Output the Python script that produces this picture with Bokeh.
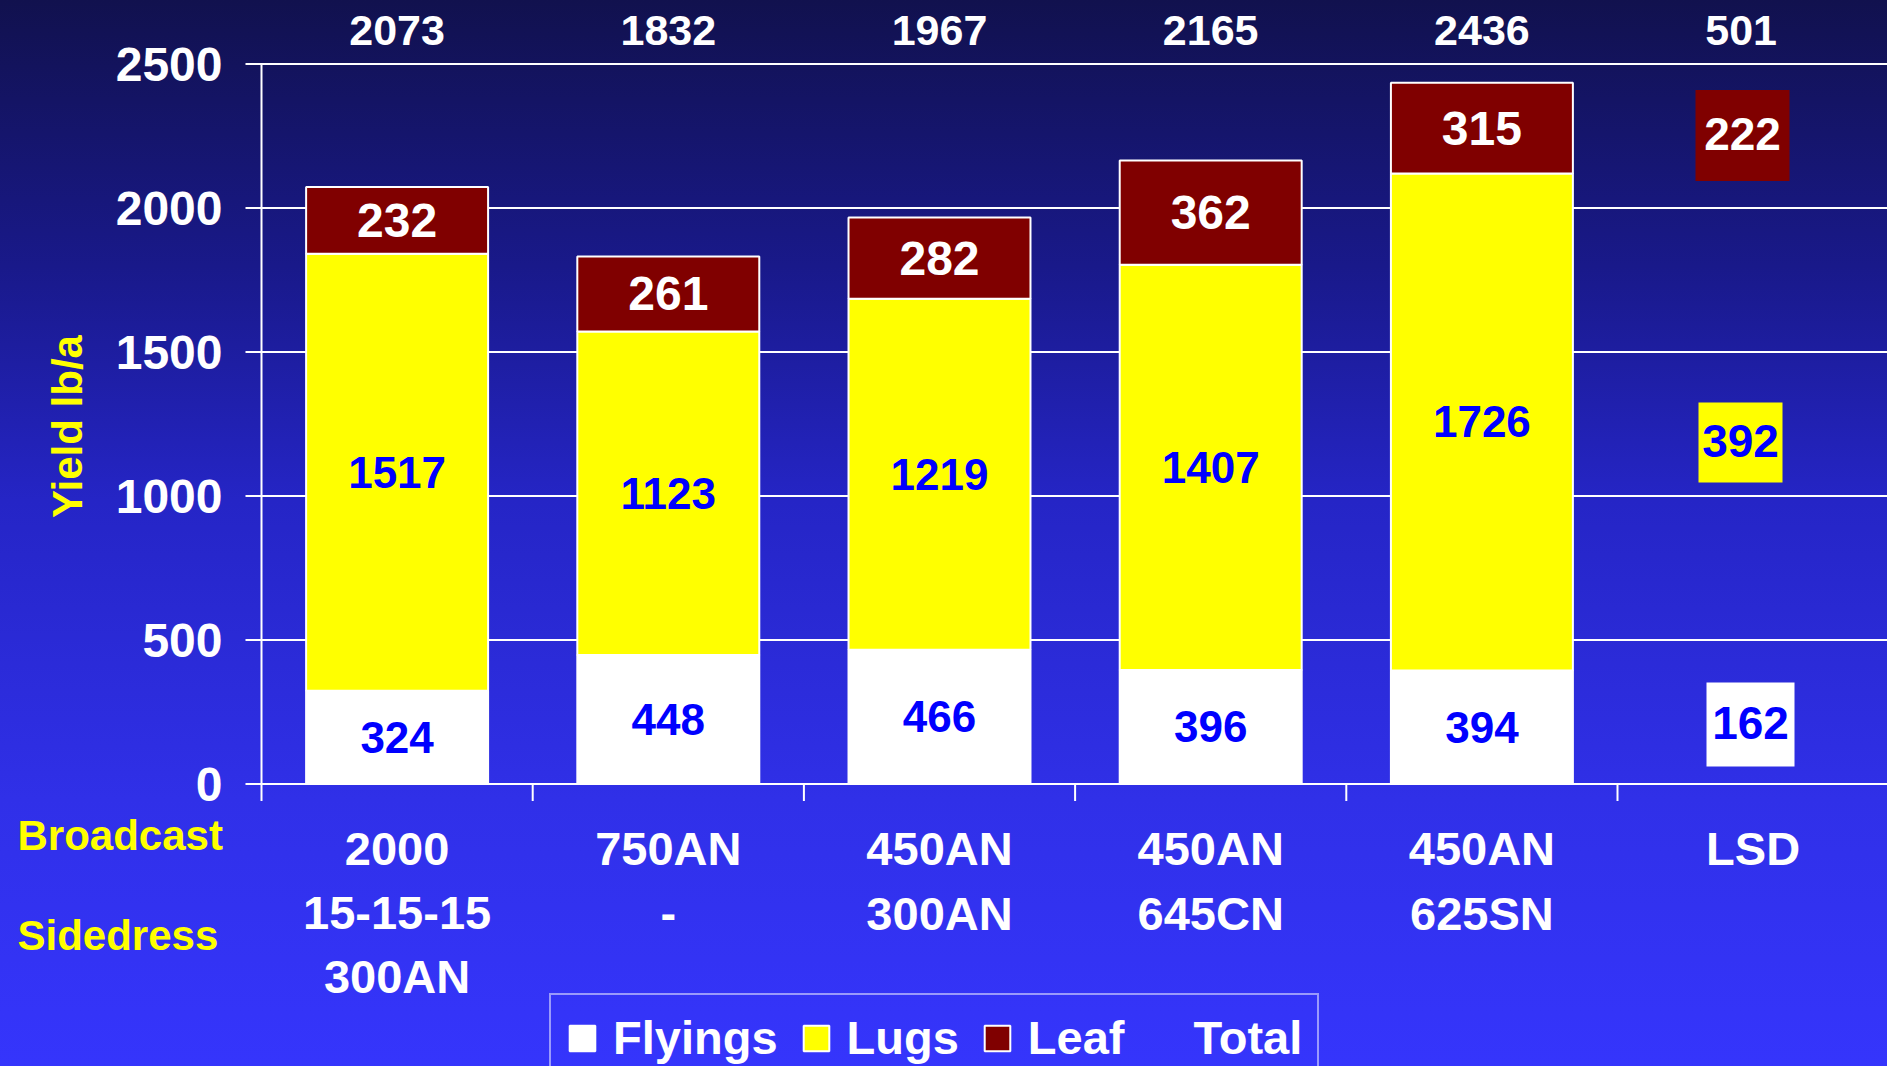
import math
from bokeh.plotting import figure
from bokeh.models import (ColumnDataSource, Range1d, Legend, LegendItem)
from bokeh.core.properties import value
from bokeh.embed import file_html
from bokeh.resources import INLINE

# ---------------- data ----------------
flyings = [324, 448, 466, 396, 394]
lugs = [1517, 1123, 1219, 1407, 1726]
leaf = [232, 261, 282, 362, 315]
totals = [2073, 1832, 1967, 2165, 2436, 501]
lsd_values = [222, 392, 162]          # Leaf, Lugs, Flyings
label_line1 = ["2000", "750AN", "450AN", "450AN", "450AN", "LSD"]
label_line2 = ["15-15-15", "-", "300AN", "645CN", "625SN", ""]
label_line3 = ["300AN", "", "", "", "", ""]
row_titles = ["Broadcast", "Sidedress"]
y_ticks = [0, 500, 1000, 1500, 2000, 2500]
series_names = ["Flyings", "Lugs", "Leaf", "Total"]
y_title = "Yield lb/a"

# ---------------- style / layout ----------------
FONT = "Liberation Sans"
WHITE = "#FFFFFF"
YELLOW = "#FFFF00"
MAROON = "#800000"
BLUE = "#0000FF"

W, H = 1887, 1066
AXIS_X = 261.0        # pixel column of the value axis
AXIS_Y = 783.5        # pixel row of the zero line
CAT_W = 271.2         # pixels per category
PX_PER_UNIT = 144.0 / 500.0


def px_x(px):
    return (px - AXIS_X) / CAT_W


def px_y(py):
    return (AXIS_Y - py) / PX_PER_UNIT


n_cat = len(label_line1)
centers = [i + 0.5 for i in range(n_cat)]
bar_x = centers[:len(flyings)]
x_end = px_x(W)

p = figure(width=W, height=H, output_backend="svg", toolbar_location=None,
           x_range=Range1d(px_x(0), px_x(W)), y_range=Range1d(px_y(H), px_y(0)),
           x_axis_location=None, y_axis_location=None, min_border=0)
p.background_fill_color = None
p.border_fill_color = None
p.outline_line_color = None
p.grid.visible = False
p.styles = {"background": "linear-gradient(to bottom, #11114e 0%, #19198a 25%, "
                          "#2525c6 47%, #3030e8 75%, #3535fc 100%)"}

TXT = dict(text_font=value(FONT), text_font_style="bold")

# ---------------- gridlines, axes, ticks ----------------
n_y = len(y_ticks)
p.segment(x0=[px_x(AXIS_X - 16)] * n_y, x1=[x_end] * n_y, y0=y_ticks, y1=y_ticks,
          line_color=WHITE, line_width=2)
p.segment(x0=[0], x1=[0], y0=[y_ticks[0]], y1=[y_ticks[-1]],
          line_color=WHITE, line_width=2)
x_ticks = list(range(n_cat + 1))
p.segment(x0=x_ticks, x1=x_ticks, y0=[0] * len(x_ticks),
          y1=[px_y(AXIS_Y + 17)] * len(x_ticks), line_color=WHITE, line_width=2)

p.text(x=[0] * n_y, y=y_ticks, text=[str(t) for t in y_ticks], x_offset=-39,
       text_color=WHITE, text_font_size="48px", text_align="right",
       text_baseline="middle", **TXT)

p.text(x=[px_x(67)], y=[px_y(426)], text=[y_title], angle=math.pi / 2,
       text_color=YELLOW, text_font_size="42px", text_align="center",
       text_baseline="middle", **TXT)

# ---------------- stacked bars ----------------
fly_mid = [f / 2 for f in flyings]
lug_mid = [f + l / 2 for f, l in zip(flyings, lugs)]
leaf_mid = [f + l + lf / 2 for f, l, lf in zip(flyings, lugs, leaf)]
bars = ColumnDataSource(dict(x=bar_x, Flyings=flyings, Lugs=lugs, Leaf=leaf,
                             fly_mid=fly_mid, lug_mid=lug_mid, leaf_mid=leaf_mid,
                             fly_txt=[str(v) for v in flyings],
                             lug_txt=[str(v) for v in lugs],
                             leaf_txt=[str(v) for v in leaf]))
stack_rs = p.vbar_stack(series_names[:3], x="x", width=0.671, source=bars,
                        fill_color=[WHITE, YELLOW, MAROON], line_color=WHITE,
                        line_width=2)

p.text(x="x", y="fly_mid", text="fly_txt", source=bars, text_color=BLUE,
       text_font_size="44px", text_align="center", text_baseline="middle", **TXT)
p.text(x="x", y="lug_mid", text="lug_txt", source=bars, text_color=BLUE,
       text_font_size="44px", text_align="center", text_baseline="middle", **TXT)
p.text(x="x", y="leaf_mid", text="leaf_txt", source=bars, text_color=WHITE,
       text_font_size="48px", text_align="center", text_baseline="middle", **TXT)

# ---------------- LSD boxes ----------------
lsd = ColumnDataSource(dict(
    x=[px_x(1742), px_x(1740), px_x(1750)],
    y=[px_y(135), px_y(442), px_y(724)],
    w=[94, 84, 88], h=[91, 80, 84],
    fill=[MAROON, YELLOW, WHITE], tcol=[WHITE, BLUE, BLUE],
    txt=[str(v) for v in lsd_values]))
p.rect(x="x", y="y", width="w", height="h", width_units="screen",
       height_units="screen", fill_color="fill", line_color=None, source=lsd)
p.text(x="x", y="y", text="txt", text_color="tcol", source=lsd, y_offset=-2,
       text_font_size="46px", text_align="center", text_baseline="middle", **TXT)

# invisible renderer for the "Total" legend entry
total_r = p.scatter(x=centers, y=totals, fill_alpha=0, line_alpha=0)

# ---------------- totals above the bars ----------------
tot_src = ColumnDataSource(dict(x=centers, y=[px_y(29.5)] * n_cat,
                                txt=[str(v) for v in totals],
                                xoff=[0, 0, 0, 0, 0, -12]))
p.text(x="x", y="y", text="txt", source=tot_src, x_offset="xoff",
       text_color=WHITE, text_font_size="43px", text_align="center",
       text_baseline="middle", **TXT)

# ---------------- category labels below the axis ----------------
for line, py in ((label_line1, 848.3), (label_line2, 912.5), (label_line3, 976.3)):
    src = ColumnDataSource(dict(x=centers, y=[px_y(py)] * n_cat, txt=line))
    p.text(x="x", y="y", text="txt", source=src, text_color=WHITE,
           text_font_size="47px", text_align="center", text_baseline="middle",
           **TXT)

p.text(x=[px_x(17)] * 2, y=[px_y(834.5), px_y(935)], text=row_titles,
       text_color=YELLOW, text_font_size="42px", text_align="left",
       text_baseline="middle", **TXT)

# ---------------- legend ----------------
legend = Legend(items=[LegendItem(label=series_names[0], renderers=[stack_rs[0]]),
                       LegendItem(label=series_names[1], renderers=[stack_rs[1]]),
                       LegendItem(label=series_names[2], renderers=[stack_rs[2]]),
                       LegendItem(label=series_names[3], renderers=[total_r])],
                orientation="horizontal", location=(549, -16))
legend.glyph_width = 32
legend.glyph_height = 32
legend.label_standoff = 15
legend.spacing = 22
legend.padding = 15
legend.margin = 0
legend.label_text_font = FONT
legend.label_text_font_style = "bold"
legend.label_text_font_size = "47px"
legend.label_text_color = WHITE
legend.border_line_color = WHITE
legend.border_line_width = 2
legend.background_fill_alpha = 0
p.add_layout(legend)

open("out.html", "w").write(file_html(p, INLINE))
